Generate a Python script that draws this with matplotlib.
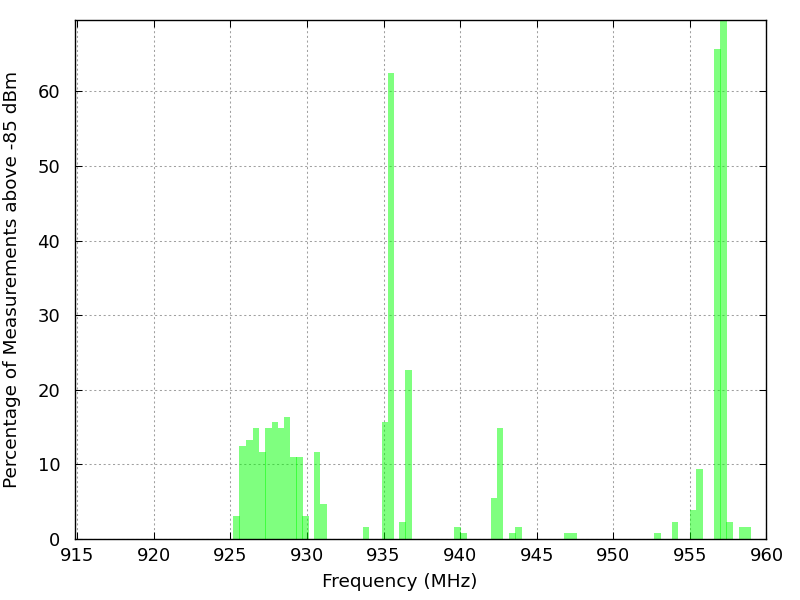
import matplotlib
matplotlib.use('Agg')
import matplotlib.pyplot as plt

# bin centres (MHz) and percentage of measurements above threshold
freqs = [925.38, 925.80, 926.24, 926.68, 927.10, 927.50, 927.90, 928.30,
         928.70, 929.10, 929.50, 929.90, 930.66, 931.08,
         933.84, 935.08, 935.47, 936.25, 936.64,
         939.82, 940.20, 942.20, 942.60, 943.40, 943.80,
         946.98, 947.40,
         952.89, 954.04, 955.21, 955.62, 956.81, 957.20, 957.59,
         958.39, 958.78]
percent = [3.13, 12.50, 13.28, 14.84, 11.72, 14.84, 15.63, 14.84,
           16.41, 10.94, 10.94, 3.13, 11.72, 4.69,
           1.56, 15.63, 62.50, 2.34, 22.66,
           1.56, 0.78, 5.47, 14.84, 0.78, 1.56,
           0.78, 0.78,
           0.78, 2.34, 3.91, 9.38, 65.63, 69.53, 2.34,
           1.56, 1.56]
xticks = list(range(915, 961, 5))
yticks = list(range(0, 61, 10))

plt.rcParams['font.family'] = ['DejaVu Sans']

fig = plt.figure(figsize=(8, 6), dpi=100)
ax = fig.add_axes([0.0934, 0.1017, 0.8647, 0.8645])

ax.bar(freqs, percent, width=0.43, color='#00ff00', alpha=0.5,
       linewidth=0, zorder=3)

ax.set_xlim(914.83, 960.0)
ax.set_ylim(0, max(percent))
ax.set_xticks(xticks)
ax.set_yticks(yticks)

ax.grid(True, color='#a0a0a0', linestyle=(0, (2, 2.5)), linewidth=0.75, zorder=0)
ax.tick_params(direction='in', length=5, width=0.75, top=True, right=True,
               labelsize=13, colors='black')
ax.tick_params(axis='x', pad=6)
ax.tick_params(axis='y', pad=10.5)
for s in ax.spines.values():
    s.set_linewidth(1)
    s.set_zorder(5)

ax.set_xlabel('Frequency (MHz)', fontsize=13.3)
ax.set_ylabel('Percentage of Measurements above -85 dBm', fontsize=13.3)
# place axis titles where the reference has them (figure fraction, from bottom-left)
ax.xaxis.set_label_coords(0.5, 18 / 600, transform=fig.transFigure)
ax.xaxis.label.set_va('center')
ax.yaxis.set_label_coords(12 / 800, 0.5 * (0.1017 + 0.9662), transform=fig.transFigure)
ax.yaxis.label.set_va('center')

fig.savefig('out.png', dpi=100)
